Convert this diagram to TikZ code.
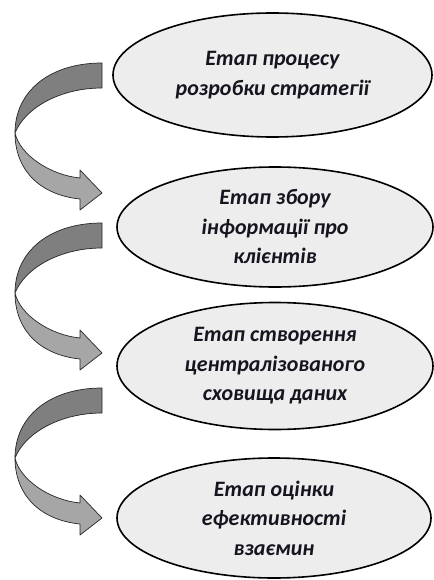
\documentclass[tikz,border=0pt]{standalone}
\usepackage{fontspec}
\setmainfont{Carlito}
\usetikzlibrary{shapes.geometric}
\definecolor{ribdark}{HTML}{7F7F7F}
\definecolor{riblight}{HTML}{A6A6A6}
\definecolor{ovalfill}{HTML}{EDEDED}
\definecolor{txt}{HTML}{15151F}
\newcommand\twistarrow[1]{%
  \begin{scope}[shift={(0,#1)}]
    \path[riblt] (15,70) .. controls (20,92) and (50,112) .. (80,115)
      -- (80,107) -- (102,130) -- (80,147) -- (80,136)
      .. controls (40,132) and (15,107) .. (15,70) -- cycle;
    \path[ribdk] (102,0) .. controls (50,0) and (15,28) .. (15,70)
      .. controls (25,45) and (60,25) .. (102,25) -- cycle;
  \end{scope}}
\begin{document}
\begin{tikzpicture}[x=1pt,y=-1pt,
  stage/.style={ellipse, draw=black, line width=1.6pt, fill=ovalfill, inner sep=0pt,
    align=center, text=txt, font=\fontsize{22}{29.5}\selectfont\bfseries\itshape},
  ribdk/.style={fill=ribdark, draw=black!85, line width=0.7pt, line join=round},
  riblt/.style={fill=riblight, draw=black!85, line width=0.7pt, line join=round}]
\useasboundingbox (0,0) rectangle (433,580);
\node[stage, minimum width=319pt, minimum height=124pt] (e1) at (272.5,75) {Етап процесу\\розробки стратегії};
\node[stage, minimum width=316pt, minimum height=120pt] (e2) at (275,227) {Етап збору\\інформації про\\клієнтів};
\node[stage, minimum width=316pt, minimum height=127pt] (e3) at (275,366) {Етап створення\\централізованого\\сховища даних};
\node[stage, minimum width=314pt, minimum height=120pt] (e4) at (274,518) {Етап оцінки\\ефективності\\взаємин};
\twistarrow{63}
\twistarrow{223}
\twistarrow{388}
\end{tikzpicture}
\end{document}
